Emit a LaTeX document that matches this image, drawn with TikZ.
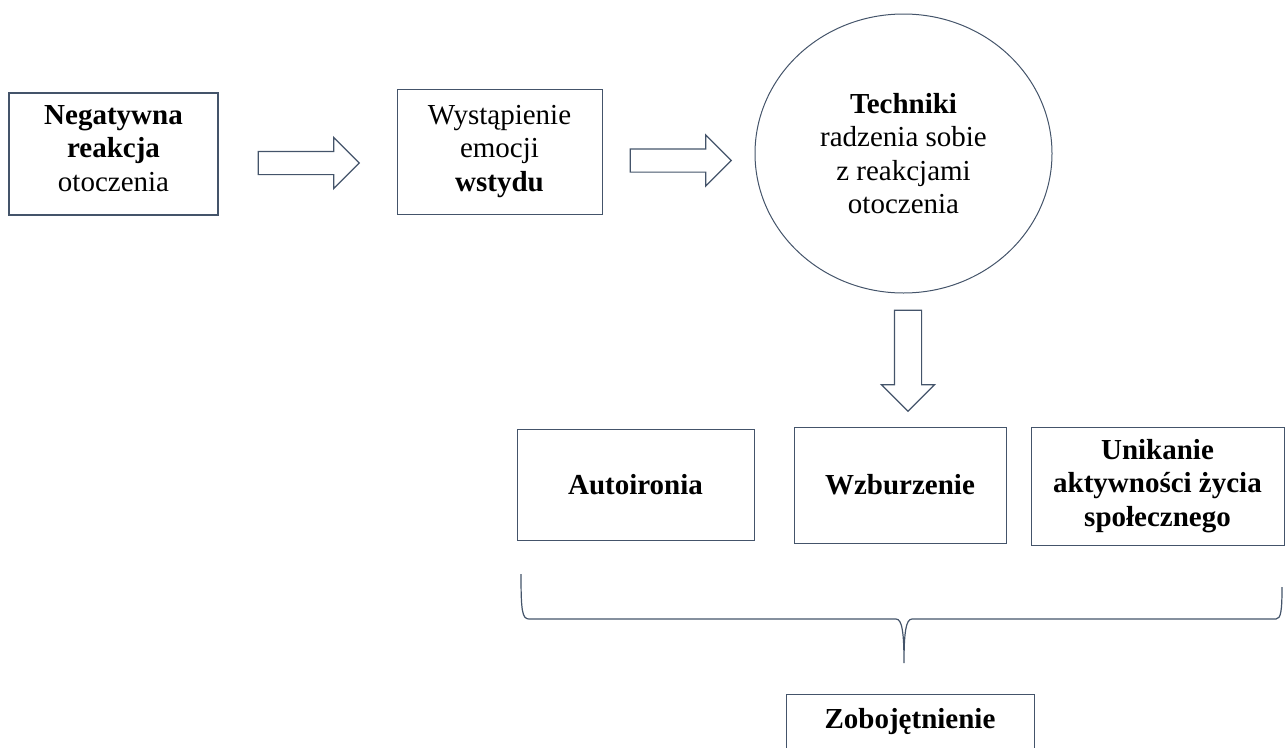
\documentclass[tikz,border=0pt]{standalone}
\usepackage{fontspec}
\setmainfont{Liberation Serif}
\usetikzlibrary{shapes.geometric,shapes.arrows}
\definecolor{frame}{HTML}{44546A}

\tikzset{
  box/.style={rectangle, draw=frame, line width=1pt, align=center, inner sep=0pt},
  blockarrow/.style={single arrow, draw=frame, line width=1.2pt, inner xsep=0pt, inner ysep=11pt,
    single arrow head extend=14pt, single arrow tip angle=90, minimum height=101pt}
}

\begin{document}
\begin{tikzpicture}[x=1pt, y=-1pt, font=\fontsize{29}{33.5}\selectfont]
\useasboundingbox (0,0) rectangle (1285,747);

\node[box, line width=2pt, minimum width=209pt, minimum height=122pt, text depth=11pt] (neg) at (113.5,154) {\textbf{Negatywna}\\ \textbf{reakcja}\\ otoczenia};
\node[box, minimum width=205pt, minimum height=125pt] (wys) at (499.5,151.5) {Wystąpienie\\ emocji\\ \textbf{wstydu}};
\node[ellipse, draw=frame, line width=1pt, align=center, inner sep=0pt, minimum width=297pt, minimum height=279pt] (tech) at (903.5,153.5) {\textbf{Techniki}\\ radzenia sobie\\ z reakcjami\\ otoczenia};

\node[blockarrow] (a1) at (303,163) {};
\node[blockarrow] (a2) at (675,160.5) {};
\node[blockarrow, shape border rotate=270, inner xsep=13pt, inner ysep=0pt, single arrow head extend=13pt] (a3) at (908,354) {};

\node[box, minimum width=237pt, minimum height=111pt] (auto) at (635.5,484.5) {\textbf{Autoironia}};
\node[box, minimum width=212pt, minimum height=116pt] (wzb) at (900,485) {\textbf{Wzburzenie}};
\node[box, minimum width=253pt, minimum height=118pt] (unik) at (1157.5,486) {\textbf{Unikanie}\\ \textbf{aktywności życia}\\ \textbf{społecznego}};

\node[box, minimum width=248pt, minimum height=56pt] (zob) at (910,722) {\textbf{Zobojętnienie}};

% klamra
\draw[frame, line width=1.2pt] (521,574) .. controls (521,610) and (522,619) .. (529,619) -- (896,619)
  .. controls (902,619) and (904,632) .. (904,663) .. controls (904,632) and (906,619) .. (912,619)
  -- (1276,619) .. controls (1281,619) and (1282,610) .. (1282,587);
\end{tikzpicture}
\end{document}
